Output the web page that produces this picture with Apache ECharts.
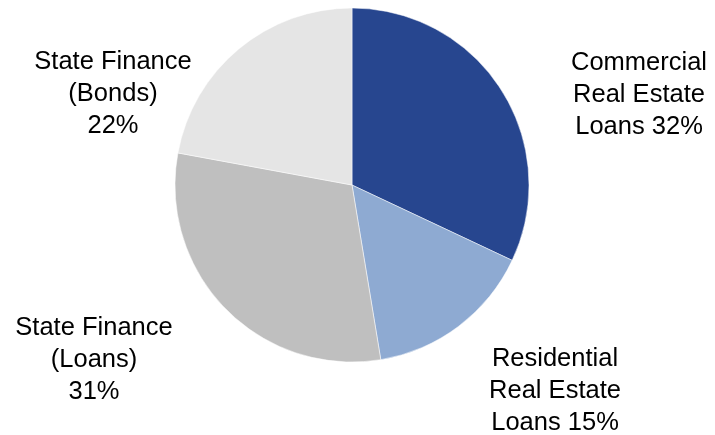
<!DOCTYPE html>
<html>
<head>
<meta charset="utf-8">
<script src="https://cdn.jsdelivr.net/npm/echarts@6/dist/echarts.min.js"></script>
<style>
html, body { margin: 0; padding: 0; background: #fff; }
#chart { width: 715px; height: 435px; }
</style>
</head>
<body>
<div id="chart"></div>
<script>
var categories = ['Commercial\nReal Estate\nLoans', 'Residential\nReal Estate\nLoans', 'State Finance\n(Loans)\n', 'State Finance\n(Bonds)\n'];
// shares; labels show them rounded
var shares = [32.0, 15.4, 30.5, 22.1];
var colors = ['#27468f', '#8eaad2', '#bfbfbf', '#e5e5e5'];

// label block centres, as in the source layout
var labelSpots = [[639, 95], [555, 391], [94, 360], [113, 94]];

var myChart = echarts.init(document.getElementById('chart'));

var pieData = [];
for (var i = 0; i < categories.length; i++) {
	pieData.push({ name: categories[i], value: shares[i], itemStyle: { color: colors[i] } });
}

function labelText(p) {
	var pct = Math.round(p.value) + '%';
	// "Loans 32%" on one line for the first two, "31%" on its own line for the others
	if (p.name.slice(-1) == '\n') {
		return p.name + pct;
	}
	return p.name + ' ' + pct;
}

var option = {
	animation: false,
	series: [{
		type: 'pie',
		center: [352, 185],
		radius: [0, 177],
		startAngle: 90,
		clockwise: true,
		data: pieData,
		itemStyle: { borderColor: '#fff', borderWidth: 0.5 },
		label: {
			show: true,
			position: 'outside',
			formatter: labelText,
			fontFamily: 'Liberation Sans, Arial, sans-serif',
			fontSize: 25.5,
			lineHeight: 32,
			color: '#000',
			align: 'center'
		},
		labelLine: { show: false },
		labelLayout: function (p) {
			var s = labelSpots[p.dataIndex];
			return { x: s[0], y: s[1], align: 'center', verticalAlign: 'middle' };
		},
		emphasis: { disabled: true }
	}]
};

myChart.setOption(option);
</script>
</body>
</html>
